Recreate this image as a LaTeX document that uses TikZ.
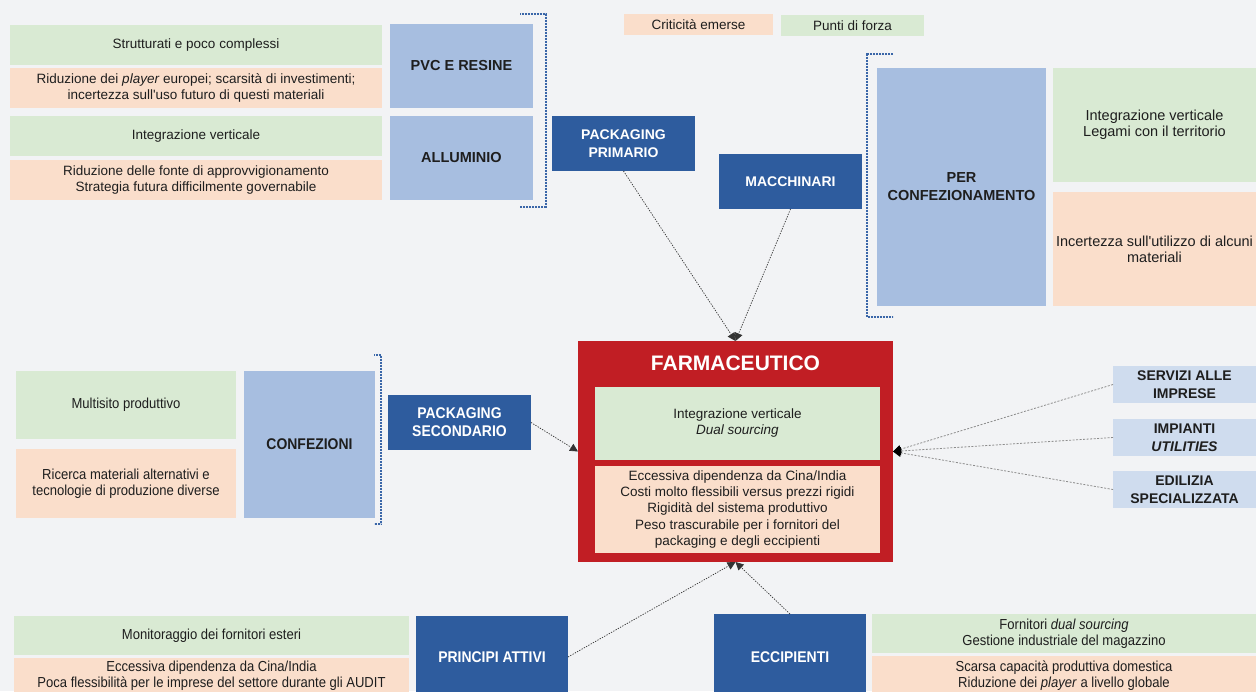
\documentclass[tikz,border=0pt]{standalone}
\usepackage{fontspec}
\setmainfont{Liberation Sans}
\newfontfamily\condfont{Liberation Sans}[FakeStretch=0.9]
\usetikzlibrary{arrows.meta}
\definecolor{bg}{HTML}{F2F3F5}
\definecolor{pgreen}{HTML}{D9EAD3}
\definecolor{ppeach}{HTML}{FADECB}
\definecolor{lblue}{HTML}{A7BEE0}
\definecolor{dblue}{HTML}{2E5C9E}
\definecolor{fred}{HTML}{C11E24}
\definecolor{pblue}{HTML}{CFDCEE}
\definecolor{brblue}{HTML}{3A66A8}
\definecolor{txt}{HTML}{1E1E1E}
\newcommand\bx[7]{\pgfmathsetmacro\bxw{#5-#3}\pgfmathsetmacro\bxh{#6-#4}\node[#2,minimum width=\bxw pt,minimum height=\bxh pt,anchor=north west] (#1) at (#3,#4) {#7};}
\tikzset{
  base/.style={inner sep=0pt,outer sep=0pt,align=center,text=txt},
  greenbox/.style={base,fill=pgreen,font=\fontsize{13.5}{16}\selectfont},
  peachbox/.style={base,fill=ppeach,font=\fontsize{13.5}{16}\selectfont},
  greenbig/.style={base,fill=pgreen,font=\fontsize{14.5}{16}\selectfont},
  peachbig/.style={base,fill=ppeach,font=\fontsize{14.5}{16}\selectfont},
  greenc/.style={base,fill=pgreen,font=\condfont\fontsize{14.5}{16.5}\selectfont},
  peachc/.style={base,fill=ppeach,font=\condfont\fontsize{14.5}{16}\selectfont},
  lbox/.style={base,fill=lblue,font=\fontsize{14.5}{18}\selectfont\bfseries},
  lboxc/.style={base,fill=lblue,font=\condfont\fontsize{15.5}{18}\selectfont\bfseries},
  dbox/.style={base,fill=dblue,text=white,font=\fontsize{14}{18}\selectfont\bfseries},
  dboxc/.style={base,fill=dblue,text=white,font=\condfont\fontsize{15.5}{18}\selectfont\bfseries},
  pbox/.style={base,fill=pblue,font=\fontsize{14}{18}\selectfont\bfseries},
  redbox/.style={base,fill=fred},
  bracket/.style={draw=brblue,line width=2.6pt,dash pattern=on 0.9pt off 0.6pt},
  arr/.style={draw=black!80,line width=0.7pt,dash pattern=on 1.3pt off 1.3pt,-{Triangle[length=8pt,width=8pt]}},
  garr/.style={draw=black!45,line width=0.8pt,dash pattern=on 2pt off 1.5pt,-{Triangle[length=8pt,width=8pt,fill=black,color=black]}}
}
\begin{document}
\begin{tikzpicture}[x=1pt,y=-1pt]
\fill[bg] (0,0) rectangle (1256,691);
\useasboundingbox (0,0) rectangle (1256,691);
\clip (0,0) rectangle (1256,691);
% legend
\bx{leg1}{peachbox}{624}{14}{773}{35}{Criticità emerse}
\bx{leg2}{greenbox}{781}{15}{924}{36}{Punti di forza}
% top left
\bx{g1}{greenbox}{10}{25}{382}{65}{Strutturati e poco complessi}
\bx{p1}{peachbox}{10}{68}{382}{108}{Riduzione dei \textit{player} europei; scarsità di investimenti;\\incertezza sull\textquotesingle uso futuro di questi materiali}
\bx{pvc}{lbox}{390}{24}{533}{108}{PVC E RESINE}
\bx{g2}{greenbox}{10}{116}{382}{156}{Integrazione verticale}
\bx{p2}{peachbox}{10}{160}{382}{200}{Riduzione delle fonte di approvvigionamento\\Strategia futura difficilmente governabile}
\bx{alu}{lbox}{390}{116}{533}{200}{ALLUMINIO}
\draw[bracket] (520,14) -- (546,14) -- (546,207) -- (520,207);
\bx{pp}{dbox}{552}{116}{695}{171}{PACKAGING\\PRIMARIO}
\bx{mac}{dbox}{719}{154}{862}{209}{MACCHINARI}
% top right
\draw[bracket] (893,54) -- (867,54) -- (867,317) -- (893,317);
\bx{conf}{lbox}{877}{68}{1046}{306}{PER\\CONFEZIONAMENTO}
\bx{g3}{greenbig}{1053}{68}{1256}{182}{Integrazione verticale\\Legami con il territorio}
\bx{p3}{peachbig}{1053}{192}{1256}{306}{Incertezza sull\textquotesingle utilizzo di alcuni\\materiali}
% middle left
\bx{g4}{greenc}{16}{371}{236}{439}{Multisito produttivo}
\bx{p4}{peachc}{16}{449}{236}{518}{Ricerca materiali alternativi e\\tecnologie di produzione diverse}
\bx{cnf}{lboxc}{244}{371}{375}{518}{CONFEZIONI}
\draw[bracket] (374,355) -- (381,355) -- (381,524) -- (374,524);
\bx{ps}{dboxc}{388}{395}{531}{450}{PACKAGING\\SECONDARIO}
% center
\bx{far}{redbox}{578}{341}{893}{562}{}
\node[base,text=white,font=\fontsize{21}{24}\selectfont\bfseries] (ftitle) at (735.5,363) {FARMACEUTICO};
\bx{fg}{greenbox}{595}{387}{880}{460}{Integrazione verticale\\\textit{Dual sourcing}}
\bx{fp}{peachbox}{595}{466}{880}{553}{Eccessiva dipendenza da Cina/India\\Costi molto flessibili versus prezzi rigidi\\Rigidità del sistema produttivo\\[1pt]Peso trascurabile per i fornitori del\\packaging e degli eccipienti}
% right
\bx{srv}{pbox}{1113}{366}{1256}{403}{SERVIZI ALLE\\IMPRESE}
\bx{imp}{pbox}{1113}{419}{1256}{456}{IMPIANTI\\\textit{UTILITIES}}
\bx{edi}{pbox}{1113}{471}{1256}{508}{EDILIZIA\\SPECIALIZZATA}
% bottom
\bx{g5}{greenc}{14}{616}{409}{655}{Monitoraggio dei fornitori esteri}
\bx{p5}{peachc}{14}{658}{409}{693}{Eccessiva dipendenza da Cina/India\\Poca flessibilità per le imprese del settore durante gli AUDIT}
\bx{pa}{dboxc}{416}{616}{568}{698}{PRINCIPI ATTIVI}
\bx{ecc}{dboxc}{714}{614}{866}{700}{ECCIPIENTI}
\bx{g6}{greenc}{872}{614}{1256}{653}{Fornitori \textit{dual sourcing}\\Gestione industriale del magazzino}
\bx{p6}{peachc}{872}{656}{1256}{695}{Scarsa capacità produttiva domestica\\Riduzione dei \textit{player} a livello globale}
% connectors
\draw[arr] (pp.south) -- (far.north);
\draw[arr] (mac.south) -- (far.north);
\draw[arr] (ps.east) -- (far.west);
\draw[arr] (pa.east) -- (far.south);
\draw[arr] (ecc.north) -- (far.south);
\draw[garr] (srv.west) -- (far.east);
\draw[garr] (imp.west) -- (far.east);
\draw[garr] (edi.west) -- (far.east);
\end{tikzpicture}
\end{document}
